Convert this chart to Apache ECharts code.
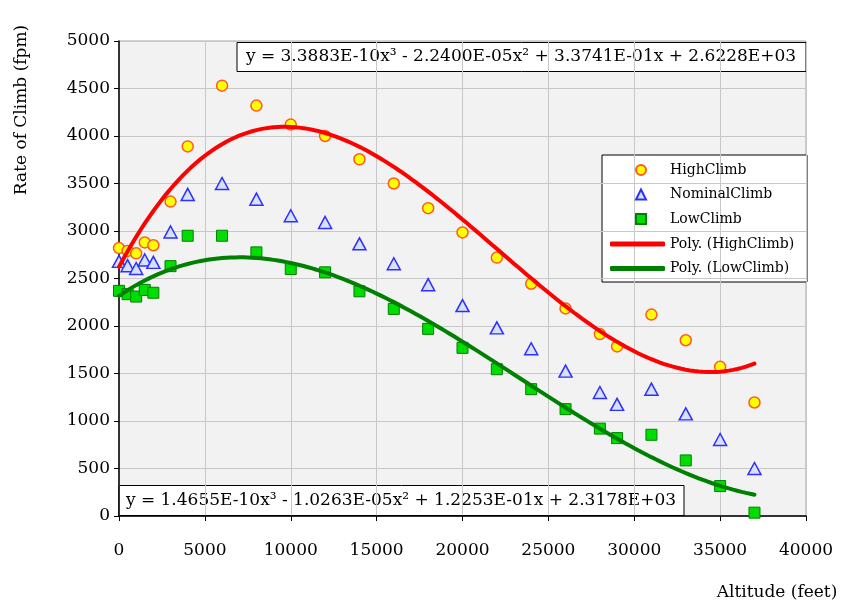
<!DOCTYPE html>
<html>
<head>
<meta charset="utf-8">
<script src="https://cdn.jsdelivr.net/npm/echarts@6/dist/echarts.min.js"></script>
<style>
  html, body { margin: 0; padding: 0; background: #ffffff; }
  #chart { width: 842px; height: 603px; }
</style>
</head>
<body>
<div id="chart"></div>
<script>
// Altitude (feet) at which each rate of climb was measured
const altitudes = [0, 500, 1000, 1500, 2000, 3000, 4000, 6000, 8000, 10000, 12000, 14000,
                   16000, 18000, 20000, 22000, 24000, 26000, 28000, 29000, 31000, 33000, 35000, 37000];

// Rate of climb (fpm) for each climb schedule
const highClimb = [2820, 2790, 2765, 2880, 2850, 3310, 3890, 4530, 4320, 4120, 4000, 3755,
                   3500, 3240, 2985, 2720, 2445, 2185, 1915, 1785, 2120, 1850, 1570, 1195];
const nominalClimb = [2680, 2635, 2605, 2695, 2670, 2990, 3385, 3500, 3335, 3160, 3090, 2865,
                      2655, 2435, 2215, 1980, 1760, 1525, 1300, 1175, 1335, 1075, 805, 500];
const lowClimb = [2370, 2335, 2310, 2380, 2350, 2630, 2950, 2950, 2775, 2600, 2565, 2365,
                  2180, 1970, 1770, 1545, 1335, 1125, 920, 820, 855, 585, 315, 35];

// Third-order polynomial trendline coefficients [x^3, x^2, x, 1]
const highFitCoef = [3.3883e-10, -2.2400e-05, 3.3741e-01, 2.6228e+03];
const lowFitCoef = [1.4655e-10, -1.0263e-05, 1.2253e-01, 2.3178e+03];

// Axis ticks
const xTicks = [0, 5000, 10000, 15000, 20000, 25000, 30000, 35000, 40000];
const yTicks = [0, 500, 1000, 1500, 2000, 2500, 3000, 3500, 4000, 4500, 5000];

const FONT = 'DejaVu Serif';

function pairs(xs, ys) { return xs.map((x, i) => [x, ys[i]]); }

function polyAt(c, x) { return ((c[0] * x + c[1]) * x + c[2]) * x + c[3]; }

// Trendline sampled across the measured altitude range
function trend(c) {
  const lo = Math.min(...altitudes), hi = Math.max(...altitudes);
  const pts = [];
  for (let x = lo; x <= hi; x += 250) pts.push([x, polyAt(c, x)]);
  return pts;
}

function sci(v) {
  return Math.abs(v).toExponential(4).toUpperCase().replace(/E([+-])(\d)$/, 'E$10$2');
}
function equation(c) {
  const sgn = v => (v < 0 ? ' - ' : ' + ');
  return 'y = ' + (c[0] < 0 ? '-' : '') + sci(c[0]) + 'x\u00B3' +
         sgn(c[1]) + sci(c[1]) + 'x\u00B2' +
         sgn(c[2]) + sci(c[2]) + 'x' +
         sgn(c[3]) + sci(c[3]);
}

const plain = v => String(v);

const chart = echarts.init(document.getElementById('chart'), null, { renderer: 'canvas' });

const legendText = { fontFamily: FONT, fontSize: 14, lineHeight: 16, color: '#000000' };

const option = {
  backgroundColor: '#ffffff',
  animation: false,
  textStyle: { fontFamily: FONT },
  grid: {
    left: 119, right: 36, top: 41, bottom: 87,
    show: true, backgroundColor: '#f2f2f2', borderColor: '#a6a6a6', borderWidth: 1
  },
  xAxis: {
    type: 'value',
    min: xTicks[0], max: xTicks[xTicks.length - 1], interval: xTicks[1] - xTicks[0],
    axisLine: { show: true, onZero: false, lineStyle: { color: '#000000', width: 1.5 } },
    axisTick: { show: true, inside: false, length: 5, lineStyle: { color: '#000000' } },
    axisLabel: { margin: 26, color: '#000000', fontFamily: FONT, fontSize: 17, formatter: plain },
    splitLine: { show: true, lineStyle: { color: '#c8c8c8', width: 1 } }
  },
  yAxis: {
    type: 'value',
    min: yTicks[0], max: yTicks[yTicks.length - 1], interval: yTicks[1] - yTicks[0],
    axisLine: { show: true, onZero: false, lineStyle: { color: '#000000', width: 1.5 } },
    axisTick: { show: true, inside: false, length: 5, lineStyle: { color: '#000000' } },
    axisLabel: { margin: 9, color: '#000000', fontFamily: FONT, fontSize: 17, formatter: plain },
    splitLine: { show: true, lineStyle: { color: '#c8c8c8', width: 1 } }
  },
  legend: [
    {
      // marker entries: small icon centred over the line swatches, text aligned with them
      orient: 'vertical', left: 635, top: 162, padding: 0,
      itemWidth: 10, itemHeight: 10, itemGap: 8.5,
      textStyle: Object.assign({ padding: [0, 0, 0, 19] }, legendText),
      data: [
        { name: 'HighClimb', icon: 'circle' },
        { name: 'NominalClimb', icon: 'triangle' },
        { name: 'LowClimb', icon: 'rect' }
      ]
    },
    {
      orient: 'vertical', left: 610, top: 236, padding: 0,
      itemWidth: 55, itemHeight: 5, itemGap: 8.5,
      textStyle: legendText,
      data: [
        { name: 'Poly. (HighClimb)', icon: 'roundRect', itemStyle: { color: '#ff0000' } },
        { name: 'Poly. (LowClimb)', icon: 'roundRect', itemStyle: { color: '#008000' } }
      ]
    }
  ],
  series: [
    {
      name: 'HighClimb', type: 'scatter', symbol: 'circle', symbolSize: 11, z: 2,
      itemStyle: { color: '#ffff00', borderColor: '#ff5a1e', borderWidth: 1.5, opacity: 1 },
      data: pairs(altitudes, highClimb)
    },
    {
      name: 'NominalClimb', type: 'scatter', symbol: 'triangle', symbolSize: [13, 12], z: 2,
      itemStyle: { color: '#d4e2ff', borderColor: '#2f2fff', borderWidth: 1.5, opacity: 1 },
      data: pairs(altitudes, nominalClimb)
    },
    {
      name: 'LowClimb', type: 'scatter', symbol: 'rect', symbolSize: 11, z: 2,
      itemStyle: { color: '#00dd00', borderColor: '#007f00', borderWidth: 1, opacity: 1 },
      data: pairs(altitudes, lowClimb)
    },
    {
      name: 'Poly. (HighClimb)', type: 'line', showSymbol: false, symbol: 'none', z: 3,
      lineStyle: { color: '#ff0000', width: 4, cap: 'round' }, itemStyle: { color: '#ff0000' },
      data: trend(highFitCoef)
    },
    {
      name: 'Poly. (LowClimb)', type: 'line', showSymbol: false, symbol: 'none', z: 3,
      lineStyle: { color: '#008000', width: 4, cap: 'round' }, itemStyle: { color: '#008000' },
      data: trend(lowFitCoef)
    }
  ],
  graphic: [
    // legend frame
    {
      type: 'rect', z: 0, zlevel: 0,
      shape: { x: 602, y: 155, width: 205, height: 127 },
      style: { fill: '#ffffff', stroke: '#000000', lineWidth: 1 }
    },
    // fitted-equation boxes
    {
      type: 'group', z: 100,
      children: [
        { type: 'rect', shape: { x: 237, y: 42.5, width: 569, height: 29 },
          style: { fill: '#ffffff', stroke: '#000000', lineWidth: 1 } },
        { type: 'text', x: 521, y: 57,
          style: { text: equation(highFitCoef), font: '17px "' + FONT + '"', fill: '#000000',
                   textAlign: 'center', textVerticalAlign: 'middle' } }
      ]
    },
    {
      type: 'group', z: 100,
      children: [
        { type: 'rect', shape: { x: 119, y: 485.5, width: 565, height: 30 },
          style: { fill: '#ffffff', stroke: '#000000', lineWidth: 1 } },
        { type: 'text', x: 401, y: 501,
          style: { text: equation(lowFitCoef), font: '17px "' + FONT + '"', fill: '#000000',
                   textAlign: 'center', textVerticalAlign: 'middle' } }
      ]
    },
    // axis titles
    {
      type: 'text', x: 22, y: 110, rotation: Math.PI / 2,
      style: { text: 'Rate of Climb (fpm)', font: '17px "' + FONT + '"', fill: '#000000',
               textAlign: 'center', textVerticalAlign: 'middle' }
    },
    {
      type: 'text', x: 777, y: 593,
      style: { text: 'Altitude (feet)', font: '17px "' + FONT + '"', fill: '#000000',
               textAlign: 'center', textVerticalAlign: 'middle' }
    }
  ]
};

chart.setOption(option);
</script>
</body>
</html>
